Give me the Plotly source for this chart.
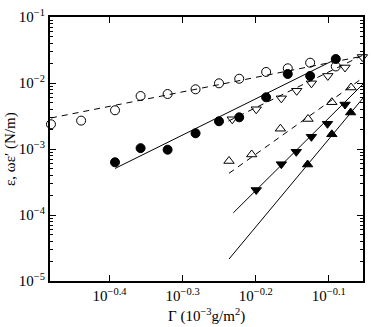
import plotly.graph_objects as go

# Gamma (10^-3 g/m^2) and epsilon (N/m)
open_circle_x = [0.331, 0.364, 0.405, 0.439, 0.478, 0.522, 0.562, 0.599, 0.652, 0.698, 0.749, 0.812]
open_circle_y = [2.37e-3, 2.69e-3, 3.86e-3, 6.35e-3, 6.81e-3, 8.03e-3, 9.89e-3, 1.16e-2, 1.47e-2, 1.67e-2, 2.03e-2, 1.78e-2]
open_circle_fit_x = [0.331, 0.885]
open_circle_fit_y = [2.95e-3, 2.56e-2]

filled_circle_x = [0.405, 0.439, 0.478, 0.522, 0.562, 0.599, 0.652, 0.698, 0.749, 0.812]
filled_circle_y = [6.29e-4, 1.03e-3, 9.76e-4, 1.73e-3, 2.63e-3, 3.02e-3, 6.07e-3, 1.37e-2, 1.28e-2, 2.31e-2]
filled_circle_fit_x = [0.405, 0.818]
filled_circle_fit_y = [5.07e-4, 2.39e-2]

open_down_x = [0.586, 0.632, 0.684, 0.718, 0.752, 0.792, 0.836, 0.883]
open_down_y = [2.82e-3, 4.00e-3, 5.86e-3, 7.62e-3, 9.89e-3, 1.28e-2, 1.72e-2, 2.48e-2]
open_down_fit_x = [0.579, 0.885]
open_down_fit_y = [2.65e-3, 2.65e-2]

open_up_x = [0.580, 0.623, 0.682, 0.744, 0.802, 0.852]
open_up_y = [6.58e-4, 8.26e-4, 2.03e-3, 2.85e-3, 5.12e-3, 8.55e-3]
open_up_fit_x = [0.580, 0.876]
open_up_fit_y = [4.28e-4, 1.11e-2]

filled_down_x = [0.632, 0.684, 0.717, 0.752, 0.791, 0.836, 0.885]
filled_down_y = [2.39e-4, 5.89e-4, 9.08e-4, 1.53e-3, 2.41e-3, 4.72e-3, 9.16e-3]
filled_down_fit_x = [0.588, 0.885]
filled_down_fit_y = [1.08e-4, 9.66e-3]

filled_up_x = [0.743, 0.802, 0.851]
filled_up_y = [5.82e-4, 1.67e-3, 3.57e-3]
filled_up_fit_x = [0.580, 0.885]
filled_up_fit_y = [2.15e-5, 5.93e-3]

x_tick_vals = [10 ** -0.4, 10 ** -0.3, 10 ** -0.2, 10 ** -0.1]
x_tick_text = ["10<sup>\u22120.4</sup>", "10<sup>\u22120.3</sup>", "10<sup>\u22120.2</sup>", "10<sup>\u22120.1</sup>"]
y_tick_vals = [1e-5, 1e-4, 1e-3, 1e-2, 1e-1]
y_tick_text = ["10<sup>\u22125</sup>", "10<sup>\u22124</sup>", "10<sup>\u22123</sup>", "10<sup>\u22122</sup>", "10<sup>\u22121</sup>"]

FONT = "Liberation Serif, Times New Roman, serif"

fig = go.Figure()

# fit lines first so hollow markers sit on top
fits = [
    (open_circle_fit_x, open_circle_fit_y, "6px,5px"),
    (filled_circle_fit_x, filled_circle_fit_y, "solid"),
    (open_down_fit_x, open_down_fit_y, "6px,5px"),
    (open_up_fit_x, open_up_fit_y, "6px,5px"),
    (filled_down_fit_x, filled_down_fit_y, "solid"),
    (filled_up_fit_x, filled_up_fit_y, "solid"),
]
for fx, fy, dash in fits:
    fig.add_trace(go.Scatter(x=fx, y=fy, mode="lines",
                             line=dict(color="black", width=1, dash=dash),
                             showlegend=False, hoverinfo="skip"))

series = [
    (open_circle_x, open_circle_y, "circle-open", 9),
    (filled_circle_x, filled_circle_y, "circle", 9),
    (open_down_x, open_down_y, "triangle-down-open", 9),
    (open_up_x, open_up_y, "triangle-up-open", 9),
    (filled_down_x, filled_down_y, "triangle-down", 9),
    (filled_up_x, filled_up_y, "triangle-up", 9),
]
for sx, sy, sym, size in series:
    fig.add_trace(go.Scatter(x=sx, y=sy, mode="markers",
                             marker=dict(symbol=sym, size=size, color="black",
                                         line=dict(color="black", width=1)),
                             showlegend=False, cliponaxis=False))

fig.update_xaxes(
    type="log", range=[-0.4815, -0.0532], automargin=False,
    tickmode="array", tickvals=x_tick_vals, ticktext=x_tick_text,
    ticks="inside", ticklen=6, tickwidth=1, tickcolor="black",
    showline=True, linecolor="black", linewidth=2, mirror="ticks",
    showgrid=False, zeroline=False,
    tickfont=dict(family=FONT, size=15, color="black"),
)
fig.update_yaxes(
    type="log", range=[-5, -1], automargin=False,
    tickmode="array", tickvals=y_tick_vals, ticktext=y_tick_text,
    ticks="inside", ticklen=6, tickwidth=1, tickcolor="black",
    minor=dict(ticks="inside", ticklen=3, tickcolor="black", dtick="D1", showgrid=False),
    showline=True, linecolor="black", linewidth=2, mirror="ticks",
    showgrid=False, zeroline=False,
    tickfont=dict(family=FONT, size=15, color="black"),
)
fig.update_layout(
    width=371, height=327,
    margin=dict(l=50, r=8, t=17, b=46),
    paper_bgcolor="white", plot_bgcolor="white",
    annotations=[
        dict(text="\u0393 (10<sup>\u22123</sup>g/m<sup>2</sup>)", xref="paper", yref="paper",
             x=0.5, y=-34 / 264, xanchor="center", yanchor="middle", showarrow=False,
             font=dict(family=FONT, size=15, color="black")),
        dict(text="\u03b5, \u03c9\u03b5\u2032 (N/m)", xref="paper", yref="paper",
             x=-40 / 313, y=0.5, xanchor="center", yanchor="middle", textangle=-90,
             showarrow=False, font=dict(family=FONT, size=15, color="black")),
    ],
)

# drop the browser's default body margin so the figure sits at the page origin
fig.write_html("out.html", config={"displayModeBar": False},
               post_script="document.body.style.margin='0';")
